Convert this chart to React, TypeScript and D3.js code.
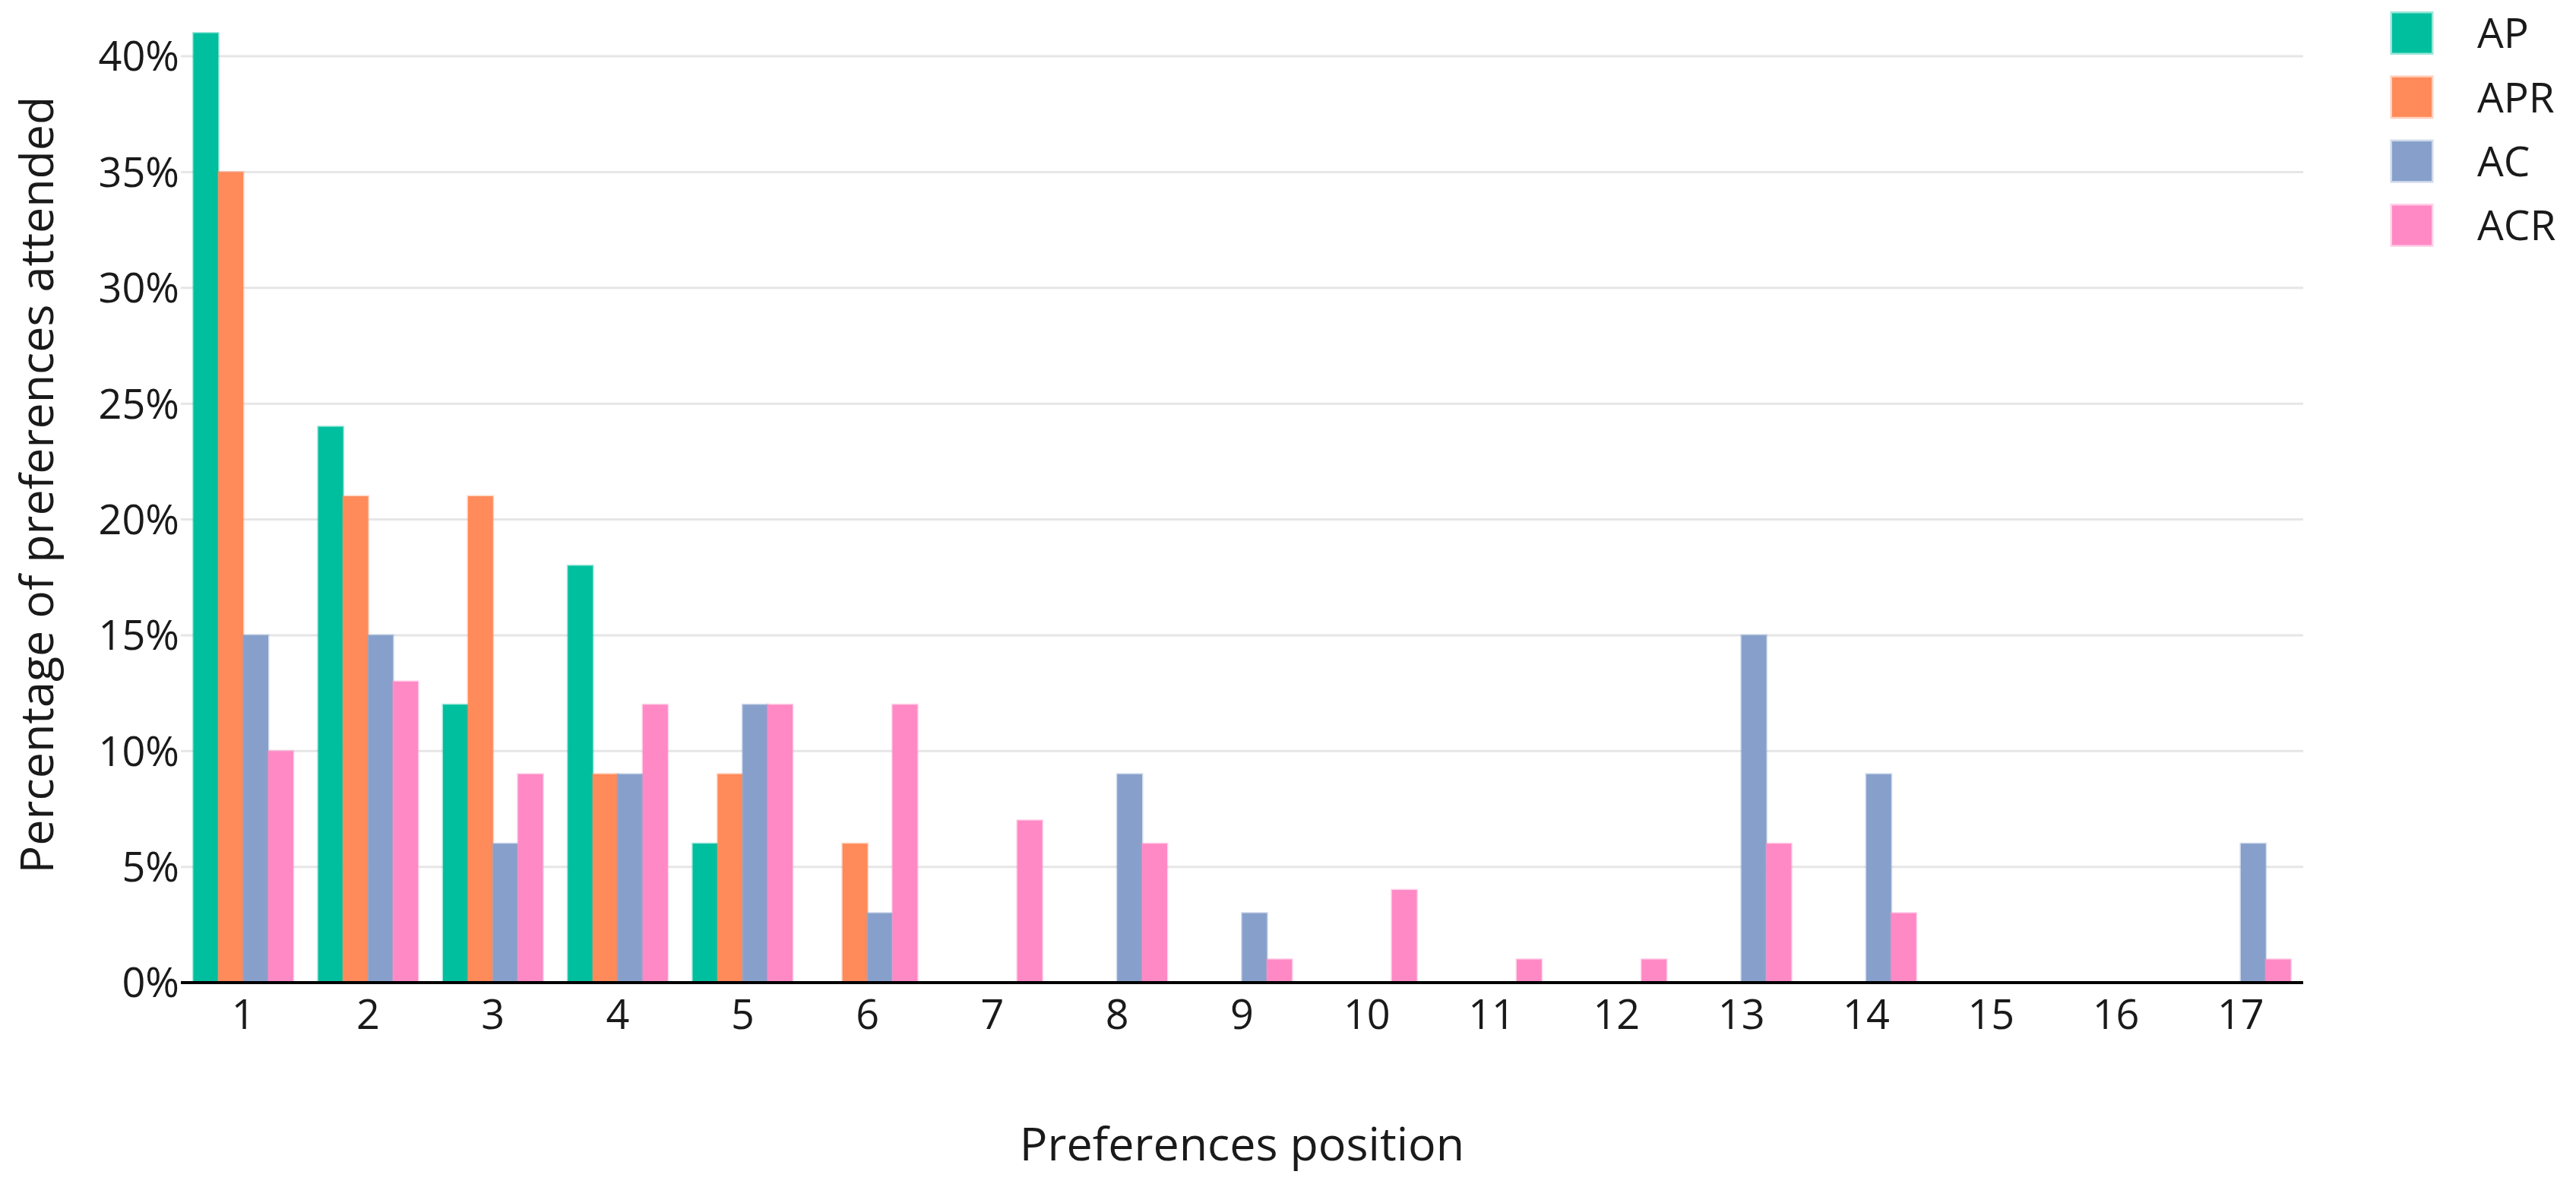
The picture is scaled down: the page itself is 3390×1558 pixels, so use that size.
import React from "react";
import * as d3 from "d3";

const categories = ["1","2","3","4","5","6","7","8","9","10","11","12","13","14","15","16","17"];
const seriesNames = ["AP", "APR", "AC", "ACR"];
const apValues  = [41, 24, 12, 18, 6, 0, 0, 0, 0, 0, 0, 0, 0, 0, 0, 0, 0];
const aprValues = [35, 21, 21, 9, 9, 6, 0, 0, 0, 0, 0, 0, 0, 0, 0, 0, 0];
const acValues  = [15, 15, 6, 9, 12, 3, 0, 9, 3, 0, 0, 0, 15, 9, 0, 0, 6];
const acrValues = [10, 13, 9, 12, 12, 12, 7, 6, 1, 4, 1, 1, 6, 3, 0, 0, 1];
const yTicks = [0, 5, 10, 15, 20, 25, 30, 35, 40];
const colors = ["#00bf9f", "#ff8a5a", "#87a0cb", "#ff89c5"];
const xTitle = "Preferences position";
const yTitle = "Percentage of preferences attended";

const W = 3390, H = 1558;
const left = 238, right = 3031, y0px = 1293, y40px = 74;
const font = "'Open Sans', 'Noto Sans', sans-serif";

export default function App() {
  const allValues = [apValues, aprValues, acValues, acrValues];
  const x = d3.scaleBand<string>().domain(categories).range([left, right]).paddingInner(0.2).paddingOuter(0.1);
  const xs = d3.scaleBand<string>().domain(seriesNames).range([0, x.bandwidth()]).padding(0);
  const y = d3.scaleLinear().domain([0, 40]).range([y0px, y40px]);

  return (
    <div style={{ position: "absolute", left: 0, top: 0 }}>
      <svg width={W} height={H} style={{ display: "block" }} fontFamily={font}>
        <rect x={0} y={0} width={W} height={H} fill="#fff" />
        {yTicks.filter(t => t > 0).map(t => (
          <line key={"g" + t} x1={left} x2={right} y1={y(t)} y2={y(t)} stroke="#e6e6e6" strokeWidth={3} />
        ))}
        {yTicks.map(t => (
          <text key={"yt" + t} x={236} y={y(t)} dy="0.36em" textAnchor="end" fontSize={54} fill="#1a1a1a">{t}%</text>
        ))}
        {seriesNames.map((s, si) => (
          <g key={s}>
            {categories.map((c, ci) => {
              const v = allValues[si][ci];
              if (v <= 0) return null;
              const bx = (x(c) as number) + (xs(s) as number);
              const by = y(v);
              return (
                <rect key={c} x={bx} y={by} width={xs.bandwidth()} height={y0px - by}
                  fill={colors[si]} stroke={colors[si]} strokeOpacity={0.35} strokeWidth={3} />
              );
            })}
          </g>
        ))}
        <line x1={left} x2={right} y1={y0px} y2={y0px} stroke="#000" strokeWidth={4} />
        {categories.map(c => (
          <text key={"xt" + c} x={(x(c) as number) + x.bandwidth() / 2} y={1354} textAnchor="middle" fontSize={54} fill="#1a1a1a">{c}</text>
        ))}
        <text x={(left + right) / 2} y={1527} textAnchor="middle" fontSize={61} fill="#1a1a1a">{xTitle}</text>
        <text transform={`translate(70, 638) rotate(-90)`} textAnchor="middle" fontSize={61} fill="#1a1a1a">{yTitle}</text>
        {seriesNames.map((s, i) => {
          const cy = 43.5 + i * 84.3;
          return (
            <g key={"lg" + s}>
              <rect x={3148} y={cy - 26} width={52} height={52} fill={colors[i]} stroke={colors[i]} strokeOpacity={0.4} strokeWidth={5} />
              <text x={3260} y={cy} dy="0.36em" fontSize={55} fill="#1a1a1a">{s}</text>
            </g>
          );
        })}
      </svg>
    </div>
  );
}
